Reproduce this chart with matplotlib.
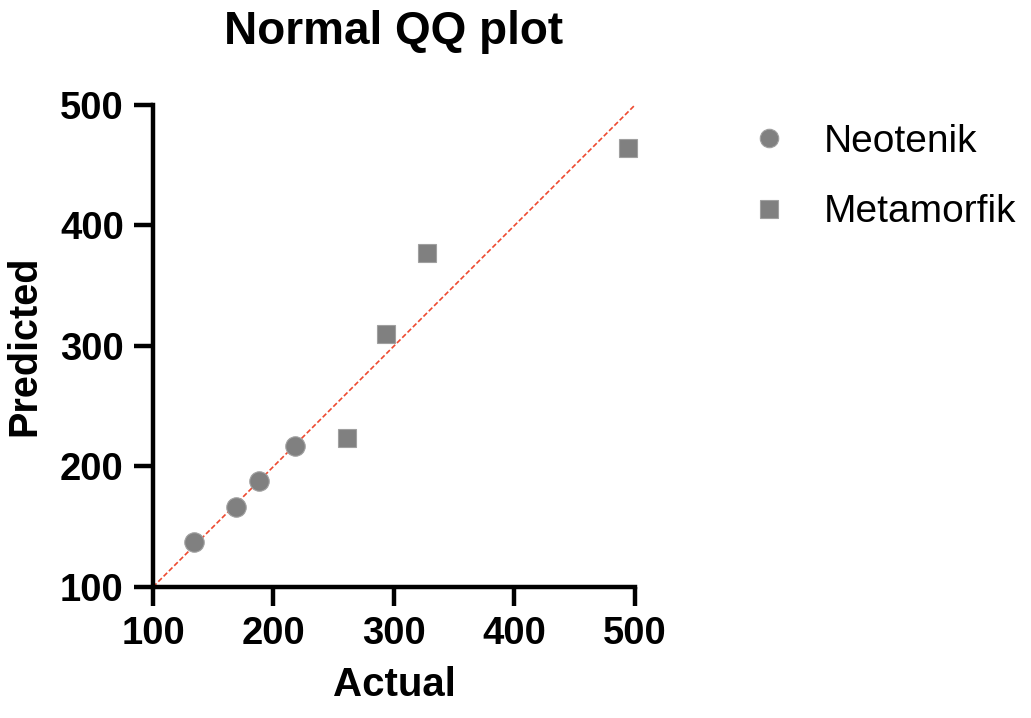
import matplotlib
matplotlib.use("Agg")
import matplotlib.pyplot as plt

plt.rcParams['font.family'] = ['Liberation Sans', 'DejaVu Sans']

# values
neotenik_actual = [134, 169, 188, 218]
neotenik_predicted = [137, 166, 188, 217]
metamorfik_actual = [261, 293, 327, 494]
metamorfik_predicted = [224, 310, 377, 464]
ticks = [100, 200, 300, 400, 500]

fig = plt.figure(figsize=(10.31, 7.18), dpi=100)
ax = fig.add_axes([0.1484, 0.1825, 0.4675, 0.6713])

# identity reference line
ax.plot([ticks[0], ticks[-1]], [ticks[0], ticks[-1]], color='#ee4a30',
        linestyle=(0, (3, 1.5)), linewidth=1.2, zorder=1)

ax.plot(neotenik_actual, neotenik_predicted, linestyle='none', marker='o',
        markersize=14, color='#808080', markeredgecolor='#a0a0a0',
        markeredgewidth=0.8, label='Neotenik', clip_on=False, zorder=3)
ax.plot(metamorfik_actual, metamorfik_predicted, linestyle='none', marker='s',
        markersize=13, color='#808080', markeredgecolor='#a0a0a0',
        markeredgewidth=0.8, label='Metamorfik', clip_on=False, zorder=3)

ax.set_xlim(ticks[0], ticks[-1])
ax.set_ylim(ticks[0], ticks[-1])
ax.set_xticks(ticks)
ax.set_yticks(ticks)

for side in ['top', 'right']:
    ax.spines[side].set_visible(False)
for side in ['left', 'bottom']:
    ax.spines[side].set_linewidth(3.2)
    ax.spines[side].set_capstyle('projecting')

ax.tick_params(axis='both', length=14, width=3.2, direction='out',
               labelsize=27.5, pad=7)
for lbl in ax.get_xticklabels() + ax.get_yticklabels():
    lbl.set_fontweight('bold')

ax.set_xlabel('Actual', fontsize=29, fontweight='bold', labelpad=10)
ax.set_ylabel('Predicted', fontsize=28.5, fontweight='bold', labelpad=12)
ax.set_title('Normal QQ plot', fontsize=33, fontweight='bold', pad=44)

leg = ax.legend(loc='upper left', bbox_to_anchor=(1.165, 1.033), frameon=False,
                fontsize=28, handlelength=1.0, handletextpad=0.9,
                labelspacing=0.88, markerscale=0.95)

fig.savefig('out.png', dpi=100)
